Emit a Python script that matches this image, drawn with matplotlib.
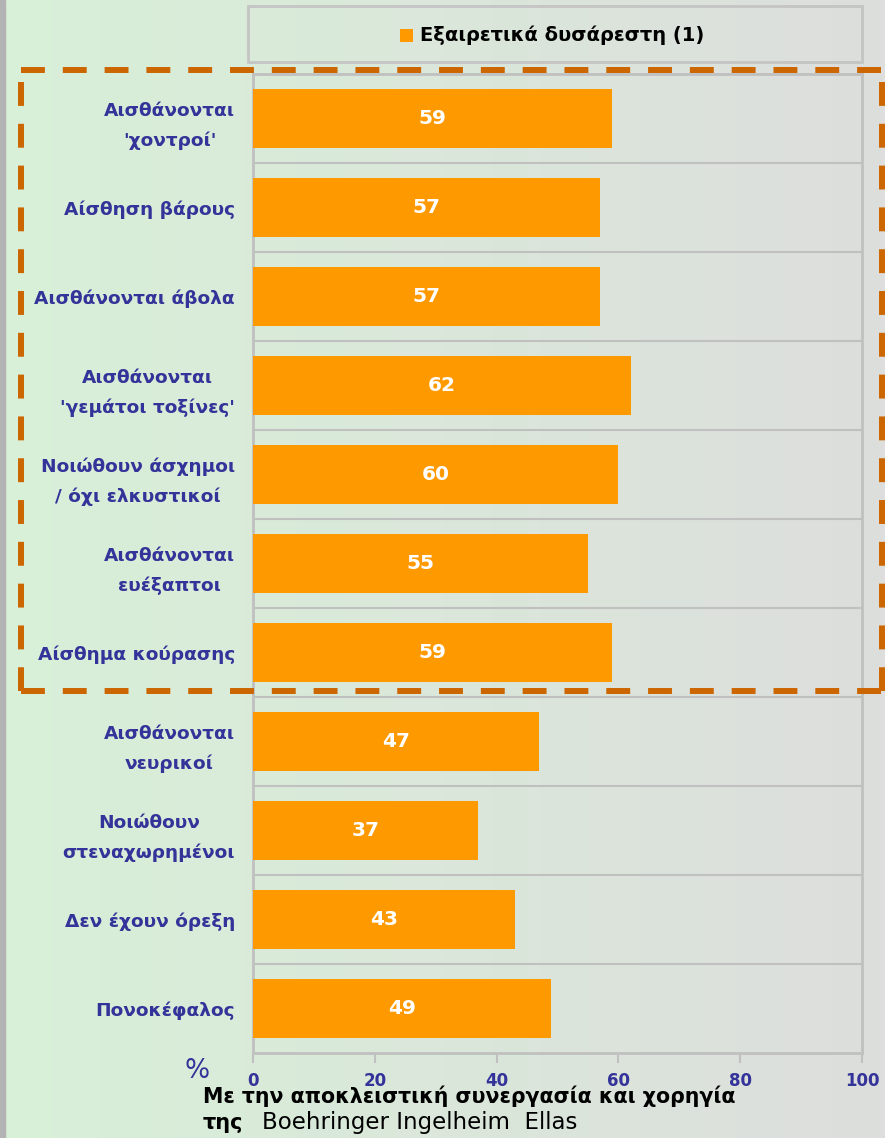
import numpy as np
import matplotlib
matplotlib.use("Agg")
import matplotlib.pyplot as plt
from matplotlib.lines import Line2D
from matplotlib.patches import Rectangle

categories = ["Αισθάνονται\n'χοντροί'", "Αίσθηση βάρους", "Αισθάνονται άβολα",
              "Αισθάνονται\n'γεμάτοι τοξίνες'", "Νοιώθουν άσχημοι\n/ όχι ελκυστικοί",
              "Αισθάνονται\nευέξαπτοι", "Αίσθημα κούρασης", "Αισθάνονται\nνευρικοί",
              "Νοιώθουν\nστεναχωρημένοι", "Δεν έχουν όρεξη", "Πονοκέφαλος"]
values = [59, 57, 57, 62, 60, 55, 59, 47, 37, 43, 49]
xticks = [0, 20, 40, 60, 80, 100]
legend_label = "Εξαιρετικά δυσάρεστη (1)"
footer1 = "Με την αποκλειστική συνεργασία και χορηγία"
footer2a = "της"
footer2b = "Boehringer Ingelheim  Ellas"

W, H = 885, 1138
fig = plt.figure(figsize=(W / 100, H / 100), dpi=100)

# background gradient
bg = fig.add_axes([0, 0, 1, 1], zorder=-10)
c1 = np.array([216, 240, 216]) / 255
c2 = np.array([221, 222, 221]) / 255
t = np.linspace(0, 1, 256)
grad = (c1[None, :] * (1 - t[:, None]) + c2[None, :] * t[:, None])[None, :, :]
bg.imshow(grad, aspect='auto', extent=[0, 1, 0, 1])
bg.add_patch(Rectangle((0, 0), 5 / W, 1, color='#b3b3b3'))
bg.set_xlim(0, 1); bg.set_ylim(0, 1)
bg.axis('off')

def fx(px): return px / W
def fy(py): return 1 - py / H

ax = fig.add_axes([fx(253), fy(1053), fx(862) - fx(253), fy(74) - fy(1053)])
ax.patch.set_alpha(0)
n = len(categories)
y = np.arange(n)
ax.barh(y, values, height=0.67, color='#ff9900', zorder=3)
ax.set_ylim(n - 0.5, -0.5)
ax.set_xlim(0, 100)
for k in range(1, n):
    ax.axhline(k - 0.5, color='#c0c0c0', lw=1.5, zorder=1)
for yi, v in zip(y, values):
    ax.text(v / 2, yi, str(v), color='white', fontsize=14.5, fontweight='bold',
            ha='center', va='center', zorder=4)
ax.set_yticks(y)
ax.set_yticklabels(categories, color='#333399', fontsize=13.3, fontweight='bold',
                   multialignment='center', linespacing=1.75)
ax.tick_params(axis='y', length=0, pad=13)
ax.set_xticks(xticks)
ax.set_xticklabels([str(v) for v in xticks], color='#333399', fontsize=12,
                   fontweight='bold')
ax.tick_params(axis='x', length=7, width=1.5, color='#c0c0c0', pad=7)
for s in ax.spines.values():
    s.set_color('#c0c0c0')
    s.set_linewidth(2)

# legend box
fig.add_artist(Rectangle((fx(248), fy(62)), fx(862) - fx(248), fy(6) - fy(62),
                         transform=fig.transFigure, facecolor='none',
                         edgecolor='#c4c4c4', lw=2))
fig.add_artist(Rectangle((fx(400), fy(42)), fx(413) - fx(400), fy(29) - fy(42),
                         transform=fig.transFigure, facecolor='#ff9900', edgecolor='none'))
fig.text(fx(420), fy(35), legend_label, fontsize=14, fontweight='bold', color='black',
         va='center', ha='left')

# dashed highlight rectangle
dcol = '#cc6600'
kw = dict(color=dcol, lw=4.3, linestyle=(0, (4, 3)), solid_capstyle='butt',
          dash_capstyle='butt', transform=fig.transFigure)
fig.add_artist(Line2D([fx(21), fx(885)], [fy(70), fy(70)], **kw))
fig.add_artist(Line2D([fx(21), fx(885)], [fy(691), fy(691)], **kw))
fig.add_artist(Line2D([fx(21), fx(21)], [fy(82), fy(691)], **kw))
fig.add_artist(Line2D([fx(882), fx(882)], [fy(82), fy(691)], **kw))

fig.text(fx(184), fy(1071), "%", fontsize=19, color='#333399', va='center', ha='left')
fig.text(fx(203), fy(1096), footer1, fontsize=14.8, fontweight='bold', color='black',
         va='center', ha='left')
fig.text(fx(203), fy(1123), footer2a, fontsize=15, fontweight='bold', color='black',
         va='center', ha='left')
fig.text(fx(262), fy(1123), footer2b, fontsize=16.5, color='black',
         va='center', ha='left')

fig.savefig('out.png', dpi=100)
